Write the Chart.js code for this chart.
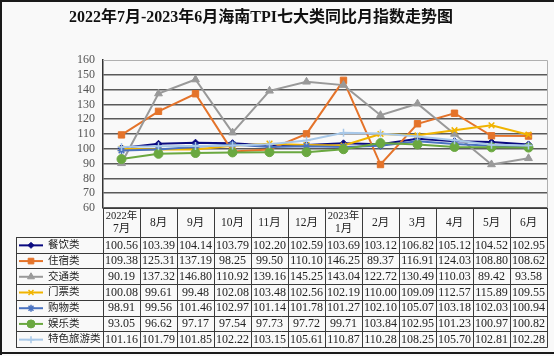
<!DOCTYPE html>
<html><head><meta charset="utf-8">
<script src="https://cdn.jsdelivr.net/npm/chart.js@4"></script>
<style>html,body{margin:0;padding:0;background:#fff;}#wrap{width:554px;height:356px;position:relative;}</style>
</head><body><div id="wrap"><canvas id="c" width="554" height="356"></canvas></div>
<script>
const titleText = '2022年7月-2023年6月海南TPI七大类同比月指数走势图';
const categories = ['2022年\n7月','8月','9月','10月','11月','12月','2023年\n1月','2月','3月','4月','5月','6月'];
const seriesNames = ['餐饮类','住宿类','交通类','门票类','购物类','娱乐类','特色旅游类'];
const catering = [100.56,103.39,104.14,103.79,102.20,102.59,103.69,103.12,106.82,105.12,104.52,102.95];
const lodging = [109.38,125.31,137.19,98.25,99.50,110.10,146.25,89.37,116.91,124.03,108.80,108.62];
const transport = [90.19,137.32,146.80,110.92,139.16,145.25,143.04,122.72,130.49,110.03,89.42,93.58];
const tickets = [100.08,99.61,99.48,102.08,103.48,102.56,102.19,110.00,109.09,112.57,115.89,109.55];
const shopping = [98.91,99.56,101.46,102.97,101.14,101.78,101.27,102.10,105.07,103.18,102.03,100.94];
const entertainment = [93.05,96.62,97.17,97.54,97.73,97.72,99.71,103.84,102.95,101.23,100.97,100.82];
const specialTour = [101.16,101.79,101.85,102.22,103.15,105.61,110.87,110.28,108.25,105.70,102.81,102.28];
const yTicks = [60,70,80,90,100,110,120,130,140,150,160];

const allSeries = [catering,lodging,transport,tickets,shopping,entertainment,specialTour];
const colors = ['#0a0a80','#e4732a','#999999','#f0b400','#4a72c0','#6aa840','#a8c8e8'];
const pstyles = ['rectRot','rect','triangle','crossRot','star','circle','cross'];
const pradius = [3.5,4.5,4.5,4,4,4.5,4];
const serif = '"Liberation Serif","Noto Sans CJK SC",serif';

const datasets = allSeries.map((d,i)=>({
  label: seriesNames[i], data: d, borderColor: colors[i], backgroundColor: colors[i],
  borderWidth: 2, pointStyle: pstyles[i], pointRadius: pradius[i], pointBorderWidth: (pstyles[i]==='crossRot'||pstyles[i]==='star'||pstyles[i]==='cross')?1.5:1,
  tension: 0, order: 6-i
}));

function fmt(v){return v.toFixed(2);}

const tablePlugin = {
  id:'tbl',
  beforeDraw(chart){
    const ctx = chart.ctx;
    ctx.save();
    ctx.fillStyle = '#f9f9f9';
    ctx.fillRect(0,0,chart.width,chart.height);
    ctx.restore();
  },
  afterDraw(chart){
    const ctx = chart.ctx, ca = chart.chartArea, xs = chart.scales.x;
    ctx.save();
    ctx.strokeStyle = '#b0b0b0'; ctx.lineWidth = 1;
    ctx.beginPath(); ctx.moveTo(ca.left, ca.top+0.5); ctx.lineTo(ca.right+0.5, ca.top+0.5); ctx.lineTo(ca.right+0.5, ca.bottom); ctx.stroke();
    ctx.fillStyle = '#111';
    ctx.font = 'bold 16px ' + serif;
    ctx.textAlign = 'center'; ctx.textBaseline = 'middle';
    ctx.fillText(titleText, 261, 18);
    const top = ca.bottom, hdrBot = 237, rowsBot = 347, legL = 16;
    const n = categories.length, colW = (ca.right - ca.left)/n;
    const rowH = (rowsBot - hdrBot)/seriesNames.length;
    ctx.strokeStyle = '#3a3a3a'; ctx.lineWidth = 1;
    ctx.beginPath();
    ctx.moveTo(ca.left, top+0.5); ctx.lineTo(ca.right+0.5, top+0.5);
    for(let r=0;r<=seriesNames.length;r++){
      const y = Math.round(hdrBot + r*rowH)+0.5;
      ctx.moveTo(legL, y); ctx.lineTo(ca.right+0.5, y);
    }
    for(let c=0;c<=n;c++){
      const x = Math.round(ca.left + c*colW)+0.5;
      ctx.moveTo(x, top); ctx.lineTo(x, rowsBot+0.5);
    }
    ctx.moveTo(legL+0.5, hdrBot); ctx.lineTo(legL+0.5, rowsBot+0.5);
    ctx.stroke();
    ctx.fillStyle = '#222';
    ctx.textAlign = 'center'; ctx.textBaseline = 'middle';
    categories.forEach((cat,i)=>{
      const cx = xs.getPixelForValue(i);
      const parts = cat.split('\n');
      if(parts.length===2){
        ctx.font = '10.5px ' + serif;
        ctx.fillText(parts[0], cx, top+8);
        ctx.font = '11.5px ' + serif;
        ctx.fillText(parts[1], cx, top+21);
      } else {
        ctx.font = '11.5px ' + serif;
        ctx.fillText(parts[0], cx, (top+hdrBot)/2+0.5);
      }
    });
    allSeries.forEach((d,r)=>{
      const cy = hdrBot + r*rowH + rowH/2 + 0.5;
      ctx.font = '12px ' + serif;
      ctx.fillStyle = '#222';
      ctx.textAlign = 'center';
      d.forEach((v,i)=>{ ctx.fillText(fmt(v), xs.getPixelForValue(i), cy); });
      ctx.strokeStyle = colors[r]; ctx.fillStyle = colors[r]; ctx.lineWidth = 2;
      ctx.beginPath(); ctx.moveTo(19, cy); ctx.lineTo(43, cy); ctx.stroke();
      ctx.lineWidth = datasets[r].pointBorderWidth;
      Chart.helpers.drawPoint(ctx, {pointStyle: pstyles[r], radius: pradius[r]-0.5, rotation: 0, borderWidth: datasets[r].pointBorderWidth}, 31, cy);
      ctx.fillStyle = '#222';
      ctx.textAlign = 'left';
      ctx.font = '10.5px ' + serif;
      ctx.fillText(seriesNames[r], 48, cy);
    });
    ctx.strokeStyle = '#1a1a1a'; ctx.lineWidth = 2;
    ctx.beginPath(); ctx.moveTo(1, 355); ctx.lineTo(1, 1); ctx.lineTo(554, 1); ctx.stroke();
    ctx.beginPath(); ctx.moveTo(0, 353); ctx.lineTo(554, 353); ctx.stroke();
    ctx.restore();
  }
};

new Chart(document.getElementById('c'), {
  type: 'line',
  data: { labels: categories.map(c=>c.replace('\n','')), datasets },
  options: {
    responsive: false, animation: false,
    layout: { padding: { top: 60, bottom: 148, right: 7, left: 0 } },
    plugins: { legend: { display: false }, title: { display: false }, tooltip: { enabled: false } },
    scales: {
      x: { type: 'category', offset: true, display: false },
      y: {
        min: 60, max: 160,
        afterFit(s){ s.width = 103; },
        afterBuildTicks(s){ s.ticks = yTicks.map(v=>({value:v})); },
        ticks: { padding: 8, autoSkip: false, color: '#555', font: { family: serif, size: 12 } },
        grid: { drawTicks: false, color: (c)=> c.tick && c.tick.value===160 ? 'rgba(0,0,0,0)' : '#5a5a5a', lineWidth: 1.5 },
        border: { display: true, color: '#333', width: 1.5 }
      }
    }
  },
  plugins: [tablePlugin]
});
</script></body></html>
